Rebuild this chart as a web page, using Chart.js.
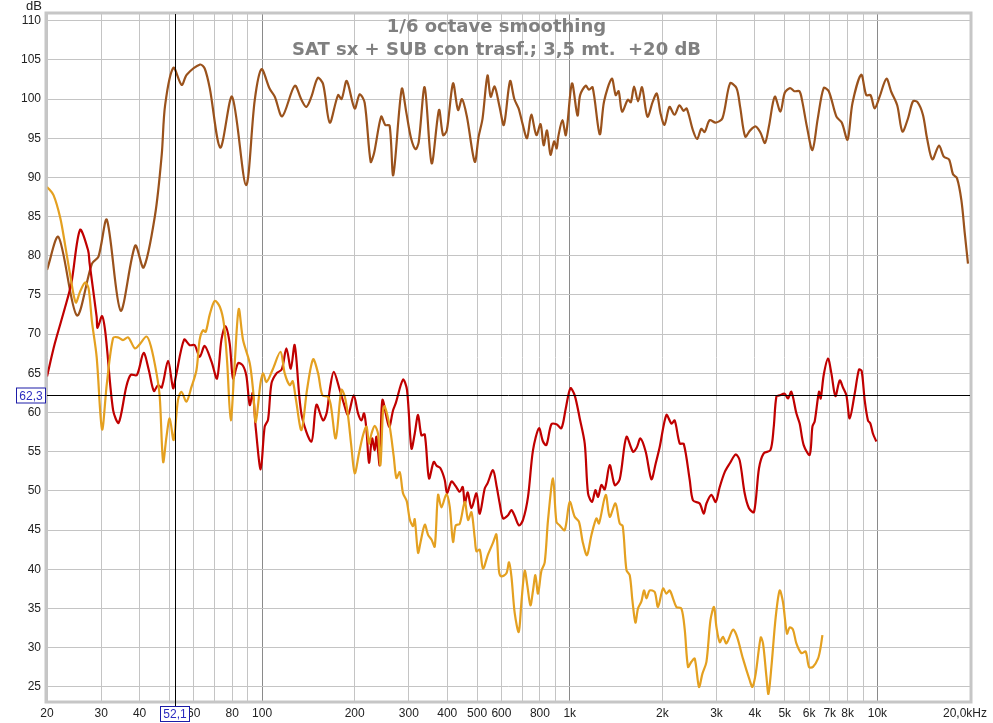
<!DOCTYPE html>
<html>
<head>
<meta charset="utf-8">
<script src="https://cdn.jsdelivr.net/npm/chart.js@4.4.0/dist/chart.umd.min.js"></script>
<style>
  html, body { margin: 0; padding: 0; background: #fff; }
  #wrap { width: 993px; height: 723px; }
</style>
</head>
<body>
<div id="wrap"><canvas id="chart" width="993" height="723"></canvas></div>
<script>
// ── Data (Hz / dB) ───────────────────────────────────────────────
const titleLines = ['1/6 octave smoothing', 'SAT sx + SUB con trasf.; 3,5 mt.  +20 dB'];

const brownFreq = [20, 21.8, 25, 28, 29.4, 31.3, 34.7, 38.7, 41.2, 44.9,
  47.2, 48.4, 51.5, 54.8, 56.9, 62.9, 65.1, 67.6, 73.2, 79.9,
  88.7, 94.7, 99.6, 105.9, 110, 116.3, 127.7, 134.3, 139.4, 144.7,
  151.7, 157.9, 166, 176.6, 181.4, 188.5, 200, 207.7, 215.6, 225.4,
  231.3, 243.9, 251.4, 259.8, 267, 284.5, 294.6, 305, 315.6, 323,
  337.7, 355.9, 376, 387.6, 398.6, 417.7, 433.5, 446.6, 463, 491.3,
  505.8, 520.8, 540.4, 553.5, 570, 591.6, 611, 640, 660.7, 682,
  703, 726.6, 750, 779, 804, 822.6, 843.7, 866, 890, 907,
  918, 946.5, 971.8, 1017, 1060, 1081, 1127, 1155, 1187, 1252,
  1293, 1370, 1411, 1442, 1480, 1545, 1580, 1619, 1668, 1718,
  1789, 1863, 1919, 1973, 2033, 2110, 2190, 2274, 2342, 2400,
  2513, 2596, 2676, 2745, 2850, 2980, 3136, 3320, 3484, 3580,
  3719, 3860, 4023, 4170, 4313, 4440, 4640, 4840, 5000, 5200,
  5370, 5580, 5700, 5900, 6150, 6400, 6690, 6950, 7360, 7660,
  8000, 8300, 8860, 9200, 9500, 9800, 10170, 10700, 11100, 11600,
  12060, 12580, 13050, 13500, 14060, 14500, 15090, 15860, 16440, 17100,
  17610, 18140, 18750, 19230, 19700];
const brownDb = [78.2, 82.4, 72.4, 79.0, 79.9, 84.6, 73.0, 81.3, 78.5, 85.2,
  92.9, 99.2, 104.0, 101.8, 103.1, 104.4, 103.9, 101.4, 93.8, 100.3,
  89.0, 99.9, 103.8, 101.3, 100.3, 97.8, 101.7, 99.9, 99.0, 100.3,
  102.7, 101.9, 97.0, 100.5, 100.0, 102.3, 98.8, 100.6, 99.5, 92.0,
  93.1, 97.75, 96.7, 96.6, 90.3, 101.3, 98.2, 95.0, 93.6, 94.5,
  101.5, 91.8, 98.6, 95.4, 96.0, 102.0, 98.6, 100.0, 97.8, 92.0,
  95.2, 97.5, 103.0, 100.3, 101.6, 99.0, 96.7, 102.3, 100.0, 98.8,
  96.8, 95.0, 98.0, 95.4, 96.8, 94.1, 96.0, 92.9, 94.6, 93.7,
  95.2, 97.3, 95.4, 102.0, 97.9, 100.5, 101.7, 101.2, 101.5, 95.5,
  99.7, 102.6, 100.5, 101.0, 98.4, 99.9, 99.6, 101.6, 99.7, 101.5,
  97.75, 99.7, 100.7, 98.2, 96.7, 99.0, 98.0, 99.2, 98.5, 98.8,
  96.05, 94.9, 96.2, 95.8, 97.3, 97.0, 97.55, 102.0, 101.4, 99.0,
  95.2, 96.0, 96.5, 95.7, 94.4, 96.5, 100.3, 98.4, 100.8, 101.4,
  101.0, 101.0, 99.7, 96.5, 93.5, 97.5, 101.4, 101.0, 97.75, 97.0,
  94.8, 99.5, 103.1, 100.5, 100.5, 98.8, 100.3, 102.6, 100.9, 99.2,
  95.85, 97.55, 99.7, 99.6, 98.0, 95.0, 92.3, 94.05, 92.65, 92.3,
  90.4, 89.9, 87.1, 82.9, 79.0];

const redFreq = [20, 21.2, 22.85, 24.0, 25.6, 27.2, 27.5, 29.0, 29.2, 30.2,
  31.0, 32.8, 34.2, 36.2, 37.4, 39.2, 41.2, 42.8, 44.5, 45.9,
  47.2, 49.5, 51.4, 52.4, 55.8, 58.2, 60.4, 62.7, 65.1, 68.5,
  71.4, 73.8, 76.0, 78.5, 80.5, 83.6, 86.6, 89.0, 91.2, 93.3,
  95.4, 99.0, 102, 104.6, 107.3, 111.4, 115.9, 120.0, 124.0, 127.7,
  134.3, 144.7, 150.2, 157.8, 162.3, 166, 171, 178.9, 184.3, 190.4,
  198.6, 205.1, 210.4, 214.6, 218.5, 222.7, 227.8, 232.4, 235.4, 241.3,
  246.2, 258.7, 266.6, 272, 287.2, 295.9, 305.9, 313.5, 321.4, 329.6,
  338, 348.9, 361.4, 369.6, 380, 392.5, 399.3, 412.6, 426.1, 439.1,
  449.1, 455.9, 466.2, 479.3, 497.6, 510, 529.4, 541, 563.3, 579.2,
  592.2, 607, 630.2, 646.4, 662.6, 684.2, 705, 731.9, 759.8, 794.7,
  818.8, 840, 871.9, 905.3, 939.7, 970.5, 1005, 1038, 1078, 1119,
  1147, 1182, 1212, 1236, 1268, 1300, 1349, 1401, 1454, 1529,
  1606, 1650, 1698, 1766, 1843, 1903, 1961, 2062, 2141, 2194,
  2278, 2348, 2455, 2516, 2645, 2726, 2782, 2887, 2982, 3073,
  3190, 3311, 3463, 3568, 3704, 3825, 3972, 4123, 4271, 4491,
  4600, 4697, 4814, 4996, 5122, 5253, 5454, 5590, 5760, 6026,
  6150, 6256, 6460, 6543, 6692, 6911, 7088, 7304, 7543, 7731,
  7930, 8128, 8437, 8713, 8890, 9093, 9320, 9490, 9676, 9926];
const redDb = [64.6, 68.8, 73.3, 76.5, 83.3, 80.7, 79.1, 72.2, 70.8, 72.3,
  70.0, 60.3, 58.7, 63.3, 64.8, 64.8, 67.6, 65.5, 62.75, 63.5,
  63.2, 66.6, 63.1, 64.5, 69.3, 68.6, 68.6, 67.1, 68.5, 66.5,
  64.35, 69.3, 71.0, 68.8, 64.35, 66.3, 66.0, 64.6, 60.95, 62.5,
  58.0, 52.75, 58.2, 59.1, 63.7, 65.0, 65.5, 68.2, 65.6, 68.6,
  59.8, 56.3, 61.0, 59.0, 60.0, 62.9, 65.2, 62.9, 61.2, 59.7,
  62.2, 59.9, 59.0, 59.9, 57.75, 53.6, 56.7, 55.2, 56.9, 53.3,
  61.6, 58.2, 60.3, 61.2, 64.2, 62.9, 55.4, 57.3, 59.7, 57.1,
  57.2, 51.6, 53.7, 53.2, 52.9, 51.4, 49.7, 51.2, 50.6, 49.9,
  50.5, 48.4, 49.8, 47.8, 49.7, 47.1, 50.3, 51.0, 52.65, 50.5,
  48.4, 46.5, 46.9, 47.55, 46.8, 45.6, 46.3, 49.25, 55.2, 58.0,
  56.3, 55.85, 58.5, 58.5, 58.0, 60.5, 63.1, 62.2, 59.25, 56.05,
  49.7, 48.6, 50.1, 49.25, 50.75, 50.2, 53.3, 50.75, 51.5, 56.9,
  55.0, 55.5, 56.7, 55.0, 51.5, 53.5, 55.6, 59.7, 58.6, 59.0,
  56.05, 56.0, 51.4, 48.8, 48.4, 47.1, 48.4, 49.5, 48.6, 50.5,
  52.4, 53.5, 54.65, 53.9, 49.7, 47.8, 47.3, 52.9, 54.8, 55.2,
  58.0, 62.05, 62.2, 62.4, 61.8, 62.65, 59.9, 58.6, 55.85, 54.6,
  58.2, 58.9, 62.65, 61.8, 64.8, 66.9, 65.0, 62.1, 64.1, 63.2,
  62.2, 59.25, 62.4, 65.5, 65.3, 61.6, 59.0, 58.6, 57.3, 56.3];

const orangeFreq = [20, 21.0, 22.1, 22.9, 23.8, 24.8, 25.6, 26.6, 27.3, 28.0,
  29.0, 30.2, 31.3, 32.8, 34.0, 35.3, 36.7, 38.6, 40.0, 42.1,
  43.5, 45.4, 46.5, 47.7, 48.9, 50.1, 51.6, 53.3, 54.7, 56.8,
  59.0, 61.2, 62.7, 64.3, 65.6, 67.6, 70.2, 72.9, 75.1, 77.0,
  79.1, 81.5, 84.0, 86.75, 91.2, 93.5, 95.4, 98.8, 100.8, 103.4,
  108.3, 114.8, 118.5, 123.0, 125.8, 128.7, 134.3, 140.0, 146.5, 152.1,
  157.1, 163.8, 167.2, 173.6, 181.1, 185.7, 190.4, 195.2, 200.1, 206.6,
  212.9, 218.5, 222.7, 226.8, 232.4, 238.2, 242.5, 247.3, 250.5, 260.0,
  267.9, 273.4, 280.3, 287.2, 295.3, 302.0, 309.5, 313.5, 321.4, 327.2,
  338, 346.4, 355.3, 364.2, 373.3, 382.8, 397.5, 407.4, 417.6, 426.1,
  439.1, 455.9, 467.3, 479.3, 491.3, 497.6, 510.0, 522.7, 542.7, 563.3,
  577.8, 589.1, 599.8, 622.7, 634.9, 646.4, 662.6, 682.8, 696.6, 714.1,
  728.6, 745.2, 759.8, 773.5, 788.8, 809.1, 829.4, 850.2, 882.5, 905.3,
  927.9, 963.2, 1000, 1038, 1072, 1102, 1138, 1176, 1221, 1245,
  1309, 1349, 1408, 1454, 1487, 1529, 1567, 1599, 1635, 1667,
  1710, 1744, 1776, 1820, 1889, 1936, 2010, 2062, 2113, 2166,
  2222, 2307, 2365, 2424, 2486, 2549, 2631, 2700, 2782, 2867,
  2944, 2998, 3073, 3149, 3230, 3395, 3497, 3657, 3846, 3925,
  4023, 4176, 4249, 4359, 4424, 4524, 4672, 4814, 4934, 5084,
  5188, 5317, 5454, 5662, 5848, 5994, 6176, 6412, 6528, 6627];
const orangeDb = [88.8, 87.75, 84.8, 81.4, 77.5, 74.05, 75.4, 76.6, 75.85, 71.6,
  67.1, 57.85, 63.7, 69.5, 69.6, 69.25, 69.6, 68.2, 68.7, 69.7,
  68.5, 65.0, 62.0, 53.7, 56.9, 59.25, 56.5, 61.6, 62.65, 61.4,
  63.3, 65.4, 69.3, 70.5, 70.3, 72.5, 74.25, 73.5, 71.4, 66.5,
  59.0, 66.3, 73.2, 69.25, 66.3, 62.9, 58.8, 63.7, 65.0, 63.9,
  65.5, 67.75, 65.0, 63.5, 64.0, 61.8, 57.75, 62.9, 66.8, 65.0,
  62.2, 62.0, 61.0, 56.7, 62.9, 62.05, 59.5, 55.6, 52.25, 54.8,
  57.1, 58.2, 56.05, 57.3, 58.3, 57.3, 53.3, 60.3, 60.8, 58.2,
  54.4, 51.65, 52.4, 49.7, 48.7, 46.4, 45.5, 46.4, 42.1, 43.4,
  45.7, 44.4, 43.8, 42.9, 49.5, 47.9, 49.6, 48.0, 43.5, 45.6,
  45.8, 48.6, 46.3, 47.3, 44.0, 42.3, 42.5, 40.1, 41.9, 43.4,
  44.45, 39.75, 39.1, 39.5, 40.9, 39.1, 34.4, 32.0, 35.8, 39.8,
  37.85, 35.4, 37.3, 39.25, 36.9, 39.8, 40.9, 46.3, 51.6, 46.05,
  45.6, 45.0, 48.6, 46.7, 46.05, 43.5, 41.8, 44.35, 46.5, 45.85,
  49.5, 46.7, 48.4, 45.85, 45.5, 39.9, 39.25, 36.0, 33.2, 35.0,
  35.9, 37.3, 36.3, 37.3, 37.1, 35.2, 37.55, 36.9, 37.3, 36.3,
  35.2, 35.0, 32.3, 27.55, 28.2, 28.6, 25.0, 26.7, 28.2, 33.5,
  35.2, 32.65, 30.7, 31.4, 30.55, 32.3, 31.4, 28.6, 25.85, 25.0,
  26.7, 31.3, 30.55, 26.3, 24.1, 27.55, 33.9, 37.3, 35.8, 31.8,
  32.6, 32.3, 30.55, 29.3, 29.5, 27.55, 27.55, 28.6, 29.9, 31.6];

// Axis ticks
const xTicks = [20, 30, 40, 50, 60, 70, 80, 90, 100,
  200, 300, 400, 500, 600, 700, 800, 900, 1000,
  2000, 3000, 4000, 5000, 6000, 7000, 8000, 9000, 10000, 20000];
const xTickText = ['20', '30', '40', '50', '60', '', '80', '', '100',
  '200', '300', '400', '500', '600', '', '800', '', '1k',
  '2k', '3k', '4k', '5k', '6k', '7k', '8k', '', '10k', '20,0kHz'];
const yTicks = [25, 30, 35, 40, 45, 50, 55, 60, 65, 70, 75, 80, 85, 90, 95, 100, 105, 110];

// Cursor readout
const cursorFreq = 52.1;
const cursorDb = 62.3;
const cursorFreqText = '52,1';
const cursorDbText = '62,3';

// ── Helpers ──────────────────────────────────────────────────────
const FONT = '"Liberation Sans", Arial, sans-serif';
const toPoints = (fs, vs) => fs.map((f, i) => ({ x: f, y: vs[i] }));
const isDecade = v => v === 100 || v === 1000 || v === 10000;

function line(label, color, fs, vs) {
    return {
        label,
        data: toPoints(fs, vs),
        borderColor: color,
        borderWidth: 2.2,
        pointRadius: 0,
        tension: 0.3,
        fill: false
    };
}

// ── Overlay: frame, cursor, titles ───────────────────────────────
const overlay = {
    id: 'overlay',
    afterDraw(chart) {
        const { ctx, chartArea: a, scales } = chart;
        ctx.save();

        // plot frame
        ctx.strokeStyle = '#c6c6c6';
        ctx.lineWidth = 3;
        ctx.strokeRect(a.left - 1, a.top - 1, a.right - a.left + 2, a.bottom - a.top + 2);

        // cursor cross
        const cx = Math.round(scales.x.getPixelForValue(cursorFreq)) + 0.5;
        const cy = Math.round(scales.y.getPixelForValue(cursorDb)) + 0.5;
        ctx.strokeStyle = '#000';
        ctx.lineWidth = 1;
        ctx.beginPath();
        ctx.moveTo(cx, a.top); ctx.lineTo(cx, a.bottom + 5);
        ctx.moveTo(a.left, cy); ctx.lineTo(a.right, cy);
        ctx.stroke();

        // cursor readout boxes
        ctx.font = '12px ' + FONT;
        ctx.textAlign = 'center';
        ctx.textBaseline = 'middle';
        const box = (x, y, w, h, txt) => {
            ctx.fillStyle = '#fff';
            ctx.fillRect(x, y, w, h);
            ctx.strokeStyle = '#1c1ca8';
            ctx.strokeRect(x + 0.5, y + 0.5, w - 1, h - 1);
            ctx.fillStyle = '#2b2bc0';
            ctx.fillText(txt, x + w / 2, y + h / 2 + 1);
        };
        box(cx - 15.5, a.bottom + 5, 30, 16, cursorFreqText);
        box(a.left - 31, cy - 8, 30, 16, cursorDbText);

        // unit label
        ctx.fillStyle = '#222';
        ctx.textAlign = 'center';
        ctx.textBaseline = 'alphabetic';
        ctx.font = '13px ' + FONT;
        ctx.fillText('dB', 34, 10);

        // titles
        ctx.fillStyle = '#808080';
        ctx.font = 'bold 18px "DejaVu Sans", Verdana, sans-serif';
        ctx.fillText(titleLines[0], chart.width / 2, 32);
        ctx.fillText(titleLines[1], chart.width / 2, 55);

        ctx.restore();
    }
};

// ── Chart ────────────────────────────────────────────────────────
new Chart(document.getElementById('chart'), {
    type: 'line',
    data: {
        datasets: [
            line('SAT sx', '#e4a020', orangeFreq, orangeDb),
            line('SAT sx + SUB', '#c00000', redFreq, redDb),
            line('+20 dB', '#9a521c', brownFreq, brownDb)
        ]
    },
    options: {
        responsive: false,
        animation: false,
        layout: { padding: { top: 14, right: 23, left: 0, bottom: 0 } },
        plugins: { legend: { display: false }, tooltip: { enabled: false } },
        scales: {
            x: {
                type: 'logarithmic',
                min: 20,
                max: 20000,
                afterBuildTicks: axis => { axis.ticks = xTicks.map(v => ({ value: v })); },
                afterFit: axis => {
                    axis.height = 22;
                    axis.paddingLeft = 0;
                    axis.paddingRight = 0;
                },
                ticks: {
                    autoSkip: false,
                    maxRotation: 0,
                    padding: 5,
                    color: '#222',
                    font: { family: FONT, size: 12 },
                    // last label sits a little left of its tick, as in the original
                    callback: (v, i) => i === xTicks.length - 1 ? xTickText[i] + '   ' : xTickText[i]
                },
                grid: {
                    drawTicks: false,
                    color: c => (c.tick && isDecade(c.tick.value)) ? '#8a8a8a' : '#c4c4c4'
                },
                border: { display: false }
            },
            y: {
                type: 'linear',
                min: 23.2,
                max: 110.85,
                afterBuildTicks: axis => { axis.ticks = yTicks.map(v => ({ value: v })); },
                afterFit: axis => {
                    axis.width = 47;
                    axis.paddingTop = 0;
                    axis.paddingBottom = 0;
                },
                ticks: {
                    padding: 6,
                    color: '#222',
                    font: { family: FONT, size: 12 }
                },
                grid: { drawTicks: false, color: '#c4c4c4' },
                border: { display: false }
            }
        }
    },
    plugins: [overlay]
});
</script>
</body>
</html>
